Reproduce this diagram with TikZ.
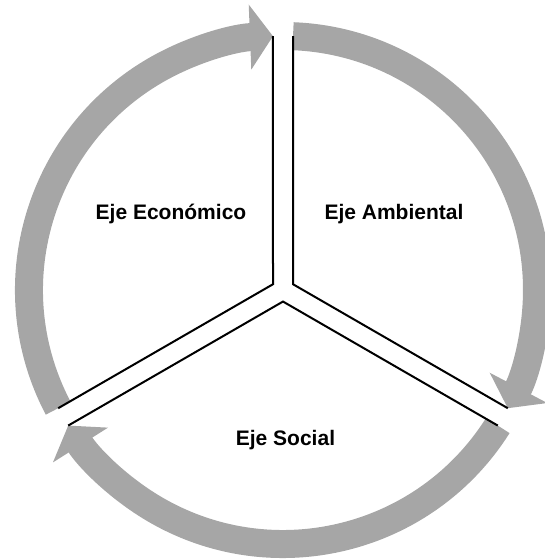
\documentclass[tikz,border=0pt]{standalone}
\usepackage{fontspec}
\setmainfont{Liberation Sans}
\usepackage{xcolor}
\usepackage{tikz}
\usetikzlibrary{arrows.meta}
\definecolor{ringgray}{RGB}{166,166,166}
\tikzset{
  ring/.style={draw=ringgray, line width=28pt, -{Triangle[length=23pt, width=64pt]}},
  axisline/.style={line width=2pt},
  ejetext/.style={anchor=base, inner sep=0pt, font=\fontsize{21}{25}\selectfont\bfseries}
}

\begin{document}
\begin{tikzpicture}[x=1pt, y=1pt]
\useasboundingbox (-283,-269) rectangle (261,290);

% ends of the three double lines
\coordinate (tl) at (92.26:254);
\coordinate (tr) at (87.74:254);
\coordinate (ul) at (207.74:254);
\coordinate (bl) at (212.26:254);
\coordinate (ur) at (-27.74:254);
\coordinate (br) at (-32.26:254);
\coordinate (cl) at (-10,5.77);
\coordinate (cr) at (10,5.77);
\coordinate (cb) at (0,-11.55);

\draw[ring] (tr) arc[start angle=87.74, end angle=-27.74, radius=254];
\draw[ring] (br) arc[start angle=-32.26, end angle=-147.74, radius=254];
\draw[ring] (ul) arc[start angle=-152.26, end angle=-267.74, radius=254];

\draw[axisline] (tl) -- (cl) -- (ul);
\draw[axisline] (tr) -- (cr) -- (ur);
\draw[axisline] (bl) -- (cb) -- (br);

\node[ejetext] (econ) at (-112,70.7) {Eje Económico};
\node[ejetext] (amb) at (111,70.7) {Eje Ambiental};
\node[ejetext] (soc) at (2.5,-155) {Eje Social};
\end{tikzpicture}
\end{document}
